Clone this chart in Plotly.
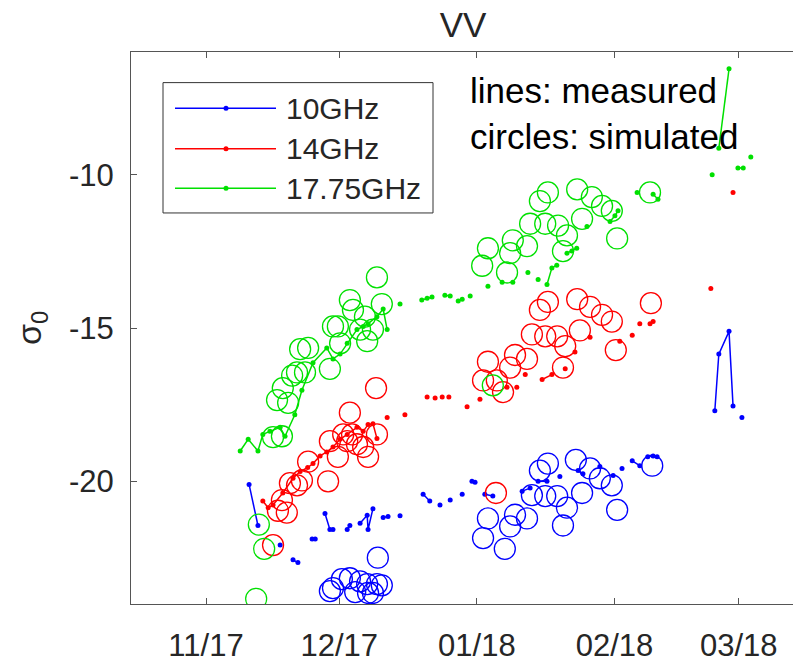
import plotly.graph_objects as go
import pandas as pd

BASE = pd.Timestamp("2017-11-01")  # day 0 of the season

# ---------------- measured (lines) : days since 2017-11-01, sigma0 [dB]; None = gap
meas10_day = [9.7, 11.7, None, 16.7, None, 19.6, 20.7, None, 23.9, 24.6, None,
              26.8, 27.9, 28.6, None, 31.8, 32.4, None, 34.7, 36.3, 36.5, 37.6, None,
              39.9, 41.0, None, 43.7, None, 48.9, 50.4, None, 52.7, None, 55.0, None,
              57.7, None, 59.9, 60.6, None, 62.8, 64.6, None, 71.2, 73.0, None,
              74.8, 76.8, None, 79.7, None, 83.8, 84.9, None, 88.7, None, 91.7, None,
              93.7, None, 96.0, 97.7, None, 99.5, 100.7, 101.6, None,
              114.6, 115.5, 117.8, 118.7, None, 120.7]
meas10_val = [-20.10, -21.44, None, -22.08, None, -22.56, -22.65, None, -21.88, -21.88, None,
              -21.05, -21.57, -21.57, None, -21.57, -21.44, None, -21.37, -21.11, -21.57, -20.89, None,
              -21.18, -21.15, None, -21.12, None, -20.42, -20.64, None, -20.77, None, -20.61, None,
              -20.42, None, -20.00, -20.03, None, -20.42, -20.48, None, -20.32, -20.22, None,
              -20.00, -20.00, None, -19.84, None, -19.65, -19.75, None, -19.52, None, -19.81, None,
              -19.58, None, -19.33, -19.49, None, -19.20, -19.17, -19.20, None,
              -17.70, -15.85, -15.11, -17.54, None, -17.92]

meas14_day = [12.8, 14.0, 15.1, 17.3, 19.6, 21.2, 22.9, 24.1, 25.7, 27.2, 28.6, 30.2,
              31.8, 34.0, 35.4, 36.5, 37.6, 38.5, None, 40.8, None, 44.8, None, 49.8, None,
              51.6, None, 53.2, None, 54.7, None, 58.8, None, 61.7, None, 67.8, None,
              70.0, None, 71.9, None, 75.7, 77.9, None, 80.9, None, 83.1, None, 86.5, None,
              93.2, None, 96.0, None, 97.7, None, 100.0, 100.7, None, 113.7, None, 118.7]
meas14_val = [-20.64, -20.86, -20.77, -20.38, -19.90, -19.68, -19.55, -19.42, -19.17, -19.04,
              -18.88, -18.63, -18.47, -18.24, -18.37, -18.15, -18.12, -18.60, None, -17.92, None,
              -17.83, None, -17.25, None, -17.28, None, -17.25, None, -17.25, None, -17.57, None,
              -17.32, None, -16.93, None, -16.93, None, -16.52, None, -16.68, -16.52, None,
              -16.33, None, -15.78, None, -15.30, None, -15.43, None, -15.24, None, -14.86, None,
              -14.86, -14.79, None, -13.71, None, -10.58]

meas17_day = [7.7, 9.5, 11.7, 12.8, 14.4, 16.7, 17.8, 20.0, 21.6, 24.1, 27.2, 28.6, 30.2,
              31.8, 34.0, 35.4, 36.5, 38.5, 39.9, 40.8, None, 43.7, None, 48.6, 49.8, 50.9, None,
              53.8, 55.0, None, 56.8, 57.7, None, 59.5, None, 63.5, None, 66.7, None, 69.1, None,
              72.5, None, 74.8, None, 76.8, 77.9, 79.0, None, 81.3, 82.4, 83.5, None, 85.8, None,
              91.0, 92.1, 92.8, None, 97.1, None, 100.7, 101.8, None, 114.0, None,
              115.5, 117.8, None, 119.8, 121.0, None, 122.7]
meas17_val = [-19.01, -18.63, -19.01, -18.47, -18.37, -18.24, -18.53, -17.83, -17.03, -16.13,
              -15.65, -16.01, -15.85, -15.50, -15.05, -14.95, -14.86, -14.63, -14.38, -15.05, None,
              -14.22, None, -14.09, -14.03, -13.99, None, -13.93, -13.96, None, -14.12, -14.06, None,
              -13.96, None, -13.64, None, -13.51, None, -13.51, None, -13.19, None, -13.42, None,
              -13.58, -13.04, -12.95, None, -12.56, -12.49, -12.40, None, -11.69, None,
              -11.53, -11.34, -11.18, None, -10.58, None, -10.64, -10.80, None, -10.00, None,
              -9.14, -6.55, None, -9.78, -9.78, None, -9.42]

# ---------------- simulated (circles)
sim10_day = [27.9, 28.6, 30.6, 32.4, 33.6, 34.7, 36.3, 36.5, 37.6, 38.5, 39.6, 38.7,
             62.4, 63.5, 67.3, 68.5, 69.6, 72.3, 73.4, 75.2, 77.0, 76.4, 79.1, 80.4,
             81.3, 83.3, 84.7, 86.5, 88.7, 91.4, 92.6, 100.5]
sim10_val = [-23.58, -23.48, -23.19, -23.16, -23.61, -23.26, -23.35, -23.64, -23.64, -23.35,
             -23.39, -22.49,
             -21.85, -21.21, -22.20, -21.47, -21.09, -21.21, -20.45, -19.65, -19.42, -20.48,
             -20.48, -21.44, -20.86, -19.30, -20.38, -19.58, -19.90, -20.13, -20.93, -19.49]

sim14_day = [15.1, 16.2, 17.1, 18.2, 18.9, 20.5, 21.6, 23.0, 27.5, 27.9, 29.7, 30.9,
             31.8, 32.9, 34.0, 32.4, 35.4, 36.5, 38.5, 38.3, 65.3,
             62.4, 63.5, 65.5, 66.9, 68.5, 69.6, 72.3, 73.4, 75.2, 77.0, 76.4, 79.1,
             80.9, 80.4, 83.6, 84.2, 86.5, 89.2, 91.4, 92.3, 100.2]
sim14_val = [-22.08, -20.96, -20.61, -21.02, -20.06, -20.13, -19.97, -19.36, -20.00, -18.69,
             -19.20, -18.47, -18.69, -18.47, -18.79, -17.76, -18.88, -19.20, -18.47, -16.96,
             -20.38,
             -16.71, -16.10, -16.71, -17.09, -16.29, -15.88, -16.01, -15.21, -14.41, -14.15,
             -15.27, -15.27, -15.59, -16.29, -14.06, -15.08, -14.31, -14.57, -14.79, -15.72,
             -14.19]

sim17_day = [11.9, 13.1, 11.3, 15.1, 17.1, 16.0, 17.3, 18.5, 19.4, 20.5, 22.3, 21.2, 23.0,
             27.9, 28.6, 29.7, 30.2, 32.4, 33.1, 35.8, 34.7, 37.6, 36.3, 39.6, 38.5,
             62.2, 63.5, 64.6, 67.8, 68.5, 69.1, 72.3, 73.0, 75.2, 77.0, 76.4, 79.3,
             81.3, 80.4, 83.6, 84.7, 86.9, 89.2, 91.4, 92.6, 100.0]
sim17_val = [-21.41, -22.20, -23.83, -18.56, -18.53, -17.35, -16.96, -17.44, -16.55, -16.45,
             -16.45, -15.69, -15.65, -16.33, -14.95, -14.95, -15.50, -14.09, -14.41, -14.63,
             -15.05, -15.05, -15.43, -14.22, -13.35,
             -12.97, -12.40, -16.87, -13.19, -12.56, -12.14, -12.33, -11.60, -10.86, -10.58,
             -11.60, -11.66, -11.98, -12.49, -10.48, -11.44, -10.73, -11.02, -11.18, -12.08,
             -10.58]

series_names = ["10GHz", "14GHz", "17.75GHz"]
colors = ["#0000ff", "#ff0000", "#00e000"]

xtick_dates = ["2017-11-01", "2017-12-01", "2018-01-01", "2018-02-01", "2018-03-01"]
xtick_text = ["11/17", "12/17", "01/18", "02/18", "03/18"]
ytick_vals = [-20, -15, -10]


def to_dates(days):
    return [BASE + pd.Timedelta(days=d) if d is not None else None for d in days]


FONT = "Liberation Sans, Arial, sans-serif"
INK = "#262626"
AX = "#555555"

fig = go.Figure()

measured = [(meas10_day, meas10_val), (meas14_day, meas14_val), (meas17_day, meas17_val)]
simulated = [(sim10_day, sim10_val), (sim14_day, sim14_val), (sim17_day, sim17_val)]

for (d, v), name, c in zip(measured, series_names, colors):
    fig.add_trace(go.Scatter(x=to_dates(d), y=v, mode="lines+markers", name=name,
                             line=dict(color=c, width=1.5), marker=dict(color=c, size=5),
                             connectgaps=False, showlegend=False))

for (d, v), name, c in zip(simulated, series_names, colors):
    fig.add_trace(go.Scatter(x=to_dates(d), y=v, mode="markers", name=name + " simulated",
                             marker=dict(symbol="circle-open", size=21, color=c,
                                         line=dict(width=1.3, color=c)),
                             showlegend=False))

# -------- hand-drawn MATLAB-style legend (long line samples)
L, T, W, H = 131, 52, 662, 559
def px(x):
    return (x - L) / W
def py(y):
    return (T + H - y) / H

shapes = [dict(type="rect", xref="paper", yref="paper", x0=px(163), x1=px(433),
               y0=py(215), y1=py(83), line=dict(color="#333333", width=1),
               fillcolor="white", layer="above")]
annotations = []
for row_y, name, c in zip([109, 150, 190], series_names, colors):
    shapes.append(dict(type="line", xref="paper", yref="paper", x0=px(175), x1=px(276),
                       y0=py(row_y), y1=py(row_y), line=dict(color=c, width=1.5),
                       layer="above"))
    shapes.append(dict(type="circle", xref="paper", yref="paper", xsizemode="pixel",
                       ysizemode="pixel", xanchor=px(226), yanchor=py(row_y),
                       x0=-2.5, x1=2.5, y0=-2.5, y1=2.5, fillcolor=c,
                       line=dict(color=c, width=0), layer="above"))
    annotations.append(dict(xref="paper", yref="paper", x=px(284), y=py(row_y),
                            xanchor="left", yanchor="middle", text=name, showarrow=False,
                            xshift=0,
                            font=dict(family=FONT, size=30, color=INK)))

annotations.append(dict(xref="paper", yref="paper", x=px(468), y=py(114),
                        xanchor="left", yanchor="middle", align="left", showarrow=False,
                        text="lines: measured<br>circles: simulated",
                        font=dict(family=FONT, size=35, color="black")))
annotations.append(dict(xref="paper", yref="paper", x=px(31), y=0.5,
                        xanchor="center", yanchor="middle", textangle=-90, showarrow=False,
                        text="σ<sub>0</sub>", font=dict(family=FONT, size=34, color=INK)))

fig.update_layout(
    width=793, height=663,
    margin=dict(l=131, r=0, t=52, b=52),
    paper_bgcolor="white", plot_bgcolor="white",
    title=dict(text="VV", x=px(463), xref="paper", xanchor="center",
               y=1 - 25 / 663, yref="container", yanchor="middle",
               font=dict(family=FONT, size=35, color=INK)),
    shapes=shapes, annotations=annotations,
    showlegend=False,
)
fig.update_xaxes(type="date",
                 range=[BASE - pd.Timedelta(days=75 / 4.44), BASE + pd.Timedelta(days=662 / 4.44 - 75 / 4.44)],
                 tickvals=xtick_dates, ticktext=xtick_text,
                 ticks="inside", ticklen=6, tickcolor=AX, tickwidth=1,
                 showline=True, linecolor=AX, linewidth=1, mirror="ticks",
                 showgrid=False, zeroline=False, ticklabelstandoff=14,
                 tickfont=dict(family=FONT, size=31, color=INK))
fig.update_yaxes(range=[-24, -6], tickvals=ytick_vals,
                 ticktext=[str(v) for v in ytick_vals],
                 ticks="inside", ticklen=6, tickcolor=AX, tickwidth=1,
                 showline=True, linecolor=AX, linewidth=1, mirror=False,
                 showgrid=False, zeroline=False, ticklabelstandoff=10,
                 tickfont=dict(family=FONT, size=31, color=INK))

fig.write_html("out.html")
